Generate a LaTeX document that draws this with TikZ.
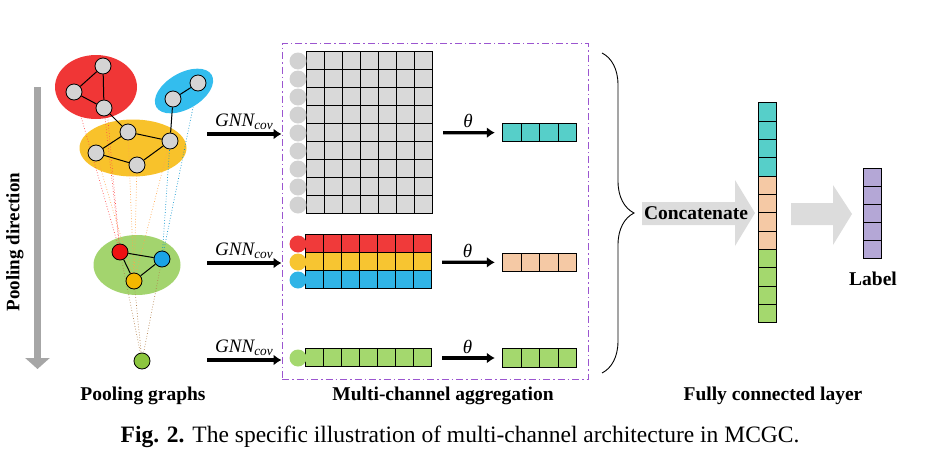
\documentclass[tikz,border=0pt]{standalone}
\usepackage{fontspec}
\setmainfont{Liberation Serif}
\usepackage{xcolor}
\usetikzlibrary{arrows.meta,positioning,calc,backgrounds,shapes.geometric,decorations.pathreplacing}

\definecolor{blobred}{HTML}{F03636}
\definecolor{blobblue}{HTML}{33BDEE}
\definecolor{blobyellow}{HTML}{F8C22B}
\definecolor{blobgreen}{HTML}{A3D46E}
\definecolor{gnodegray}{HTML}{D4D4D4}
\definecolor{gnodered}{HTML}{EE1111}
\definecolor{gnodeblue}{HTML}{1AA3E6}
\definecolor{gnodeyellow}{HTML}{F5B800}
\definecolor{gnodegreen}{HTML}{8CC63F}
\definecolor{cellgray}{HTML}{D9D9D9}
\definecolor{cellred}{HTML}{F03A3A}
\definecolor{cellyellow}{HTML}{F7C531}
\definecolor{cellblue}{HTML}{30B4E6}
\definecolor{cellgreen}{HTML}{A4D86E}
\definecolor{cellteal}{HTML}{56CFC9}
\definecolor{cellpeach}{HTML}{F5C9A5}
\definecolor{celllilac}{HTML}{B4A7D6}
\definecolor{dotgray}{HTML}{D2D2D2}
\definecolor{arrowgray}{HTML}{DCDCDC}
\definecolor{bargray}{HTML}{A6A6A6}
\definecolor{boxviolet}{HTML}{9B55D0}

\tikzset{
  gnode/.style={circle, draw=black, line width=0.8pt, minimum size=16pt, inner sep=0pt, fill=#1},
  blob/.style={ellipse, inner sep=0pt, fill=#1},
  cell/.style={draw=black, line width=0.7pt},
  thickarrow/.style={-{Latex[length=8pt,width=11pt]}, line width=3.2pt},
  poolline/.style={dotted, line width=0.7pt, draw=#1},
  bigtext/.style={font=\fontsize{19.5}{22}\selectfont\bfseries},
  gnntext/.style={font=\fontsize{19}{22}\selectfont\itshape, inner sep=3pt}
}

\begin{document}
\begin{tikzpicture}[x=1pt, y=-1pt]
    \useasboundingbox (0,0) rectangle (930,453);

    %Pooling direction
    \draw[bargray, line width=7pt, -{Triangle[length=11pt,width=24pt]}] (37.5,87) -- (37.5,369);
    \node[bigtext, font=\fontsize{19}{22}\selectfont\bfseries, rotate=90] (pool_dir) at (15,242) {Pooling direction};

    %Graph nodes
    \node[gnode=gnodegray] (red_top)    at (103,66)  {};
    \node[gnode=gnodegray] (red_left)   at (74,92)   {};
    \node[gnode=gnodegray] (red_bottom) at (104,108) {};
    \node[gnode=gnodegray] (blue_top)   at (198,83)  {};
    \node[gnode=gnodegray] (blue_low)   at (173,99)  {};
    \node[gnode=gnodegray] (yel_top)    at (128,132) {};
    \node[gnode=gnodegray] (yel_right)  at (170,141) {};
    \node[gnode=gnodegray] (yel_left)   at (96,153)  {};
    \node[gnode=gnodegray] (yel_bottom) at (137,165) {};
    \node[gnode=gnodered]    (pool_red)    at (120,252) {};
    \node[gnode=gnodeblue]   (pool_blue)   at (162,259) {};
    \node[gnode=gnodeyellow] (pool_yellow) at (134,281) {};
    \node[gnode=gnodegreen]  (pool_green)  at (142,361) {};

    %Graph edges
    \begin{scope}[line width=1pt]
    \draw (red_top) -- (red_left);
    \draw (red_top) -- (red_bottom);
    \draw (red_left) -- (red_bottom);
    \draw (red_bottom) -- (yel_top);
    \draw (blue_top) -- (blue_low);
    \draw (blue_low) -- (yel_right);
    \draw (yel_top) -- (yel_right);
    \draw (yel_top) -- (yel_left);
    \draw (yel_left) -- (yel_bottom);
    \draw (yel_bottom) -- (yel_right);
    \draw (pool_red) -- (pool_blue);
    \draw (pool_blue) -- (pool_yellow);
    \draw (pool_red) -- (pool_yellow);
    \end{scope}

    %Blobs and pooling lines
    \begin{pgfonlayer}{background}
    \node[blob=blobyellow, minimum width=107pt, minimum height=57pt] (yel_blob) at (133,148) {};
    \node[blob=blobgreen, minimum width=87pt, minimum height=60pt] (green_blob) at (137,265) {};
    \foreach \n in {red_top,red_left,red_bottom}
        \draw[poolline=red!70] (\n.center) -- (pool_red.center);
    \foreach \n in {yel_top,yel_right,yel_left,yel_bottom}
        \draw[poolline=orange!70] (\n.center) -- (pool_yellow.center);
    \foreach \n in {blue_top,blue_low}
        \draw[poolline=blue!30!cyan!80!black] (\n.center) -- (pool_blue.center);
    \foreach \n in {pool_red,pool_blue,pool_yellow}
        \draw[poolline=brown!80!gray] (\n.center) -- (pool_green.center);
    \node[blob=blobred, minimum width=82pt, minimum height=64pt] (red_blob) at (96,87) {};
    \node[blob=blobblue, minimum width=64pt, minimum height=36pt, rotate=30] (blue_blob) at (184,91) {};
    \end{pgfonlayer}

    %Aggregation box
    \node[draw=boxviolet, line width=1pt, dash pattern=on 7pt off 3pt on 1.5pt off 3pt,
          minimum width=306pt, minimum height=336pt, inner sep=0pt] (agg_box) at (435,211) {};

    %Feature grids
    \begin{scope}[every node/.style={inner sep=0pt, minimum width=126pt}]
    \node[minimum height=162pt] (grid_top) at (370,133) {};
    \node[minimum height=54pt]  (grid_mid) at (369,262) {};
    \node[minimum height=18pt]  (grid_low) at (369,358) {};
    \end{scope}
    \foreach \i in {0,...,6} {
        \foreach \j in {0,...,8}
            \draw[cell, fill=cellgray] ($(grid_top.north west)+(18*\i,18*\j)$) rectangle +(18,18);
        \foreach \c [count=\j from 0] in {cellred,cellyellow,cellblue}
            \draw[cell, fill=\c] ($(grid_mid.north west)+(18*\i,18*\j)$) rectangle +(18,18);
        \draw[cell, fill=cellgreen] ($(grid_low.north west)+(18*\i,0)$) rectangle +(18,18);
    }
    \foreach \j in {0,...,8}
        \fill[dotgray] (298,61+18*\j) circle (8.5);
    \foreach \c [count=\j from 0] in {cellred,cellyellow,cellblue}
        \fill[\c] (298,244+18*\j) circle (8.5);
    \fill[cellgreen] (298,358) circle (8.5);

    %Output vectors
    \begin{scope}[every node/.style={inner sep=0pt, minimum width=74pt, minimum height=18.5pt}]
    \node (vec_top) at (540,132.5) {};
    \node (vec_mid) at (540,262.5) {};
    \node (vec_low) at (540,358)   {};
    \end{scope}
    \foreach \i in {0,...,3} {
        \draw[cell, fill=cellteal]  ($(vec_top.north west)+(18.5*\i,0)$) rectangle +(18.5,18.5);
        \draw[cell, fill=cellpeach] ($(vec_mid.north west)+(18.5*\i,0)$) rectangle +(18.5,18.5);
        \draw[cell, fill=cellgreen] ($(vec_low.north west)+(18.5*\i,0)$) rectangle +(18.5,18.5);
    }

    %GNN arrows
    \coordinate (gnn_top_in) at (207,134);
    \coordinate (gnn_mid_in) at (207,263);
    \coordinate (gnn_low_in) at (207,360);
    \draw[thickarrow] (gnn_top_in) -- node[gnntext, above] {GNN\textsubscript{cov}} (agg_box.west |- gnn_top_in);
    \draw[thickarrow] (gnn_mid_in) -- node[gnntext, above] {GNN\textsubscript{cov}} (agg_box.west |- gnn_mid_in);
    \draw[thickarrow] (gnn_low_in) -- node[gnntext, above] {GNN\textsubscript{cov}} (agg_box.west |- gnn_low_in);

    %Theta arrows
    \draw[thickarrow, shorten <=10pt, shorten >=8pt] (grid_top) -- node[gnntext, above] {θ} (vec_top);
    \draw[thickarrow, shorten <=10pt, shorten >=8pt] (grid_mid) -- node[gnntext, above] {θ} (vec_mid);
    \draw[thickarrow, shorten <=10pt, shorten >=8pt] (grid_low) -- node[gnntext, above] {θ} (vec_low);

    %Brace
    \draw[line width=0.9pt, decorate, decoration={brace, amplitude=32pt}] (602,53) -- (602,373);

    %Fully connected layer
    \fill[arrowgray] (642,202) -- (735,202) -- (735,180) -- (755,213) -- (735,246) -- (735,225) -- (642,225) -- cycle;
    \fill[arrowgray] (791,203) -- (833,203) -- (833,185) -- (852,214) -- (833,245) -- (833,225) -- (791,225) -- cycle;
    \node[bigtext] (concat) at (696,213) {Concatenate};
    \node[inner sep=0pt, minimum width=18pt, minimum height=220pt] (fc_vec) at (768,213) {};
    \foreach \c [count=\j from 0] in {cellteal,cellteal,cellteal,cellteal,cellpeach,cellpeach,cellpeach,cellpeach,cellgreen,cellgreen,cellgreen,cellgreen}
        \draw[cell, fill=\c] ($(fc_vec.north west)+(0,220/12*\j)$) rectangle +(18,220/12);
    \node[inner sep=0pt, minimum width=18pt, minimum height=90pt] (label_vec) at (873,214) {};
    \foreach \j in {0,...,4}
        \draw[cell, fill=celllilac] ($(label_vec.north west)+(0,18*\j)$) rectangle +(18,18);

    % Text labels
    \node[bigtext, below=9pt of label_vec] (label_txt) {Label};
    \node[bigtext] (pool_txt) at (143,396) {Pooling graphs};
    \node[bigtext] (agg_txt)  at (443,396) {Multi-channel aggregation};
    \node[bigtext] (fc_txt)   at (773,396) {Fully connected layer};
    \node[font=\fontsize{23.5}{26}\selectfont] (caption) at (460,437) {\textbf{Fig. 2.} The specific illustration of multi-channel architecture in MCGC.};
\end{tikzpicture}
\end{document}
